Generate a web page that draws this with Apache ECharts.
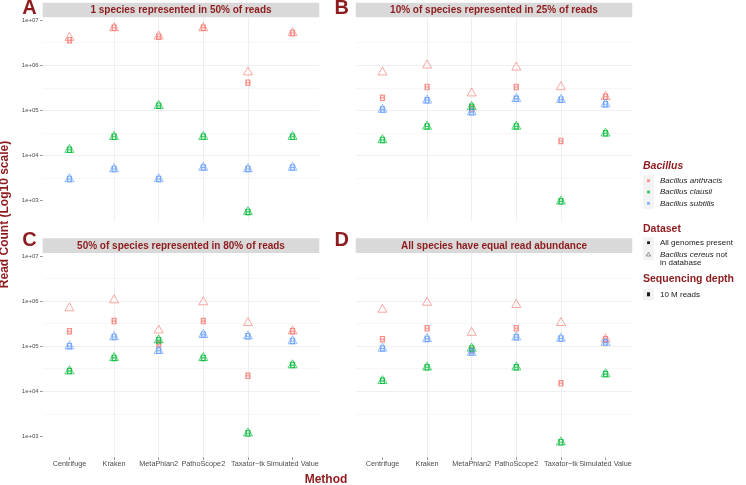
<!DOCTYPE html>
<html>
<head>
<meta charset="utf-8">
<script src="https://cdn.jsdelivr.net/npm/echarts@6/dist/echarts.min.js"></script>
<style>html,body{margin:0;padding:0;background:#fff}#c{width:746px;height:485px}</style>
</head>
<body>
<div id="c"></div>
<script>
// ---------- DATA ----------
const methods = ['Centrifuge', 'Kraken', 'MetaPhlan2', 'PathoScope2', 'Taxator\u2212tk', 'Simulated Value'];
const species = ['Bacillus anthracis', 'Bacillus clausii', 'Bacillus subtilis'];
const panelTitles = [
  '1 species represented in 50% of reads',
  '10% of species represented in 25% of reads',
  '50% of species represented in 80% of reads',
  'All species have equal read abundance'
];
const panelLetters = ['A', 'B', 'C', 'D'];
const yTickValues = [1e3, 1e4, 1e5, 1e6, 1e7];
const yMinorValues = [3162, 31623, 316228, 3162278];

// Panel A
const A_anthracis_all = [3.6e6, 6.8e6, 4.3e6, 6.8e6, 4.1e5, 5.2e6];
const A_anthracis_noCereus = [4.1e6, 6.7e6, 4.4e6, 6.7e6, 7.0e5, 5.2e6];
const A_clausii_all = [1.34e4, 2.6e4, 1.27e5, 2.6e4, 560, 2.6e4];
const A_clausii_noCereus = [1.34e4, 2.6e4, 1.27e5, 2.6e4, 560, 2.6e4];
const A_subtilis_all = [3.0e3, 5.0e3, 3.0e3, 5.4e3, 5.0e3, 5.4e3];
const A_subtilis_noCereus = [3.0e3, 5.0e3, 3.0e3, 5.4e3, 5.0e3, 5.4e3];
// Panel B
const B_anthracis_all = [1.9e5, 3.3e5, 1.1e5, 3.3e5, 2.1e4, 2.0e5];
const B_anthracis_noCereus = [7.0e5, 1.0e6, 2.4e5, 9.0e5, 3.3e5, 2.0e5];
const B_clausii_all = [2.2e4, 4.4e4, 1.2e5, 4.4e4, 960, 3.1e4];
const B_clausii_noCereus = [2.2e4, 4.4e4, 1.2e5, 4.4e4, 960, 3.1e4];
const B_subtilis_all = [1.04e5, 1.67e5, 9.1e4, 1.8e5, 1.73e5, 1.37e5];
const B_subtilis_noCereus = [1.04e5, 1.67e5, 9.1e4, 1.8e5, 1.73e5, 1.37e5];
// Panel C
const C_anthracis_all = [2.15e5, 3.6e5, 1.1e5, 3.6e5, 2.2e4, 2.15e5];
const C_anthracis_noCereus = [7.0e5, 1.05e6, 2.25e5, 9.5e5, 3.3e5, 2.15e5];
const C_clausii_all = [2.8e4, 5.5e4, 1.36e5, 5.5e4, 1.17e3, 3.8e4];
const C_clausii_noCereus = [2.8e4, 5.5e4, 1.36e5, 5.5e4, 1.17e3, 3.8e4];
const C_subtilis_all = [1.0e5, 1.6e5, 7.9e4, 1.8e5, 1.66e5, 1.3e5];
const C_subtilis_noCereus = [1.0e5, 1.6e5, 7.9e4, 1.8e5, 1.66e5, 1.3e5];
// Panel D
const D_anthracis_all = [1.43e5, 2.5e5, 8.0e4, 2.5e5, 1.5e4, 1.43e5];
const D_anthracis_noCereus = [6.5e5, 9.3e5, 2.0e5, 8.3e5, 3.3e5, 1.43e5];
const D_clausii_all = [1.7e4, 3.4e4, 8.9e4, 3.4e4, 740, 2.4e4];
const D_clausii_noCereus = [1.7e4, 3.4e4, 8.9e4, 3.4e4, 740, 2.4e4];
const D_subtilis_all = [8.9e4, 1.45e5, 7.2e4, 1.58e5, 1.48e5, 1.2e5];
const D_subtilis_noCereus = [8.9e4, 1.45e5, 7.2e4, 1.58e5, 1.48e5, 1.2e5];

// ---------- LAYOUT / STYLE ----------
const panelData = [
  [[A_anthracis_all, A_anthracis_noCereus], [A_clausii_all, A_clausii_noCereus], [A_subtilis_all, A_subtilis_noCereus]],
  [[B_anthracis_all, B_anthracis_noCereus], [B_clausii_all, B_clausii_noCereus], [B_subtilis_all, B_subtilis_noCereus]],
  [[C_anthracis_all, C_anthracis_noCereus], [C_clausii_all, C_clausii_noCereus], [C_subtilis_all, C_subtilis_noCereus]],
  [[D_anthracis_all, D_anthracis_noCereus], [D_clausii_all, D_clausii_noCereus], [D_subtilis_all, D_subtilis_noCereus]]
];
const colors = ['#F8766D', '#00BA38', '#619CFF'];
const darkRed = '#8E1B1E';
const FONT = 'Liberation Sans, Arial, Helvetica, sans-serif';
const gridW = 276.6, gridH = 204;
const gridPos = [
  { left: 42.7, top: 17.5 },
  { left: 355.7, top: 17.5 },
  { left: 42.7, top: 253.3 },
  { left: 355.7, top: 253.3 }
];
const stripTop = [2.7, 2.7, 238.3, 238.3];
const SQUARE = 'path://M0,0H10V12H0Z M3,2V5H7V2Z M3,7V10H7V7Z';
const gridColor = '#EBEBEB';

const grids = [], xAxes = [], yAxes = [], series = [], graphics = [];
gridPos.forEach((g, p) => {
  const showX = p >= 2, showY = p % 2 === 0;
  grids.push({ left: g.left, top: g.top, width: gridW, height: gridH, containLabel: false, outerBoundsMode: 'none' });
  xAxes.push({
    type: 'value', gridIndex: p, min: 0.4, max: 6.6,
    axisLine: { show: false },
    axisTick: { show: showX, length: 2.7, lineStyle: { color: '#4D4D4D', width: 0.6 }, customValues: [1, 2, 3, 4, 5, 6] },
    axisLabel: {
      show: showX, customValues: [1, 2, 3, 4, 5, 6], margin: 3.5,
      fontSize: 7.3, color: '#4D4D4D', fontFamily: FONT,
      formatter: v => methods[Math.round(v) - 1] || ''
    },
    splitLine: { show: true, showMinLine: false, showMaxLine: false, lineStyle: { color: gridColor, width: 0.8 } }
  });
  yAxes.push({
    type: 'log', logBase: 10, gridIndex: p, min: Math.pow(10, 2.535), max: Math.pow(10, 7.06),
    axisLine: { show: false },
    axisTick: { show: showY, length: 2.7, lineStyle: { color: '#4D4D4D', width: 0.6 }, customValues: yTickValues },
    axisLabel: {
      show: showY, customValues: yTickValues, margin: 4,
      fontSize: 6, color: '#4D4D4D', fontFamily: FONT,
      formatter: v => { const e = Math.round(Math.log10(v)); return '1e+' + (e < 10 ? '0' : '') + e; }
    },
    splitLine: { show: true, showMinLine: false, showMaxLine: false, lineStyle: { color: gridColor, width: 0.8 } }
  });
  // squares ("All genomes present") first, then triangles ("Bacillus cereus not in database")
  [0, 1].forEach(d => {
    species.forEach((sp, s) => {
      const vals = panelData[p][s][d];
      const ser = {
        type: 'scatter', name: sp, xAxisIndex: p, yAxisIndex: p,
        data: methods.map((m, i) => [i + 1, vals[i]]),
        silent: true, animation: false, z: 3 + d,
        symbol: d === 0 ? SQUARE : 'triangle',
        symbolSize: d === 0 ? [5.2, 6.5] : [9, 8],
        symbolOffset: d === 0 ? [0, 0] : [0, -1.3],
        itemStyle: d === 0
          ? { color: colors[s], opacity: 0.8 }
          : { color: 'rgba(0,0,0,0)', borderColor: colors[s], borderWidth: 0.9, opacity: 0.7 }
      };
      if (d === 0 && s === 0) {
        ser.markLine = {
          silent: true, symbol: 'none', animation: false, z: 1,
          label: { show: false },
          lineStyle: { color: '#F1F1F1', width: 0.6, type: 'solid' },
          emphasis: { disabled: true },
          data: yMinorValues.map(v => ({ yAxis: v }))
        };
      }
      series.push(ser);
    });
  });
  // strip
  graphics.push({
    type: 'rect', silent: true, z: 1,
    shape: { x: g.left, y: stripTop[p], width: gridW, height: 14.6 },
    style: { fill: '#D9D9D9' }
  });
  graphics.push({
    type: 'text', silent: true, z: 2,
    x: g.left + gridW / 2, y: stripTop[p] + 7.5,
    style: { text: panelTitles[p], fill: darkRed, font: 'bold 10px ' + FONT, textAlign: 'center', textVerticalAlign: 'middle' }
  });
  // panel letter
  graphics.push({
    type: 'text', silent: true, z: 2,
    x: showY ? 29.5 : 341.7, y: p < 2 ? 8.6 : 240,
    style: { text: panelLetters[p], fill: darkRed, font: 'bold 20px ' + FONT, textAlign: 'center', textVerticalAlign: 'middle' }
  });
});

// axis titles
graphics.push({
  type: 'text', silent: true, x: 326, y: 480,
  style: { text: 'Method', fill: darkRed, font: 'bold 12px ' + FONT, textAlign: 'center', textVerticalAlign: 'middle' }
});
graphics.push({
  type: 'text', silent: true, x: 5, y: 214.5, rotation: Math.PI / 2,
  style: { text: 'Read Count (Log10 scale)', fill: darkRed, font: 'bold 12px ' + FONT, textAlign: 'center', textVerticalAlign: 'middle' }
});

// ---------- LEGEND ----------
const legX = 643, keyX = 648.5, labX = 660;
function keyBg(y0, h) {
  graphics.push({ type: 'rect', silent: true, shape: { x: legX, y: y0, width: 11, height: h }, style: { fill: '#F3F3F3' } });
}
function legTitle(t, y, italic) {
  graphics.push({ type: 'text', silent: true, x: legX, y: y,
    style: { text: t, fill: darkRed, font: (italic ? 'italic ' : '') + 'bold 10.5px ' + FONT, textVerticalAlign: 'middle' } });
}
legTitle('Bacillus', 165.7, true);
keyBg(175.2, 33.8);
const legRows = [180.7, 192, 203.3];
species.forEach((sp, s) => {
  graphics.push({ type: 'rect', silent: true, shape: { x: keyX - 1.4, y: legRows[s] - 1.4, width: 2.8, height: 2.8 }, style: { fill: colors[s], opacity: 0.8 } });
  graphics.push({ type: 'text', silent: true, x: labX, y: legRows[s],
    style: { text: sp, fill: '#1A1A1A', font: 'italic 8px ' + FONT, textVerticalAlign: 'middle' } });
});
legTitle('Dataset', 228.7, false);
keyBg(237.2, 23);
graphics.push({ type: 'rect', silent: true, shape: { x: keyX - 1.4, y: 242.7 - 1.4, width: 2.8, height: 2.8 }, style: { fill: '#1A1A1A' } });
graphics.push({ type: 'text', silent: true, x: labX, y: 242.7,
  style: { text: 'All genomes present', fill: '#1A1A1A', font: '8px ' + FONT, textVerticalAlign: 'middle' } });
graphics.push({ type: 'polygon', silent: true, shape: { points: [[keyX, 252.2], [keyX + 2.2, 256], [keyX - 2.2, 256]] },
  style: { fill: 'none', stroke: '#555', lineWidth: 0.6 } });
graphics.push({ type: 'text', silent: true, x: labX, y: 254.3,
  style: { text: '{i|Bacillus cereus} not', fill: '#1A1A1A', font: '8px ' + FONT, textVerticalAlign: 'middle',
    rich: { i: { fontStyle: 'italic', fontSize: 8, fontFamily: FONT, fill: '#1A1A1A' } } } });
graphics.push({ type: 'text', silent: true, x: labX, y: 262.3,
  style: { text: 'in database', fill: '#1A1A1A', font: '8px ' + FONT, textVerticalAlign: 'middle' } });
legTitle('Sequencing depth', 279, false);
keyBg(288.6, 11.4);
graphics.push({ type: 'rect', silent: true, shape: { x: keyX - 1.5, y: 294.3 - 2, width: 3, height: 4 }, style: { fill: '#1A1A1A' } });
graphics.push({ type: 'text', silent: true, x: labX, y: 294.3,
  style: { text: '10 M reads', fill: '#1A1A1A', font: '8px ' + FONT, textVerticalAlign: 'middle' } });

const chart = echarts.init(document.getElementById('c'), null, { renderer: 'canvas' });
chart.setOption({
  backgroundColor: '#FFFFFF',
  animation: false,
  textStyle: { fontFamily: FONT },
  grid: grids,
  xAxis: xAxes,
  yAxis: yAxes,
  series: series,
  graphic: { elements: graphics }
});
</script>
</body>
</html>
